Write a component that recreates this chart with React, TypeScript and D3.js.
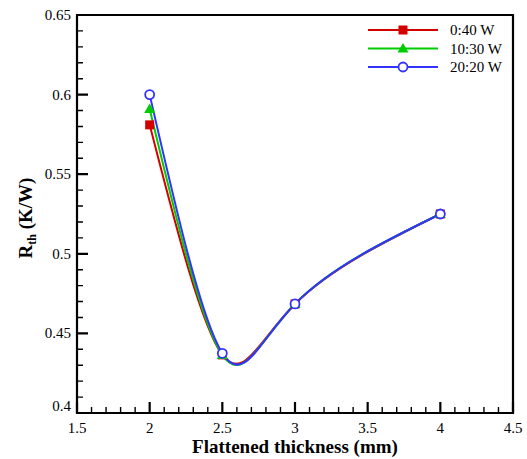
import * as d3 from "d3";

const thickness = [2, 2.5, 3, 4];
const rth040 = [0.581, 0.4365, 0.4685, 0.525];
const rth1030 = [0.591, 0.4365, 0.4685, 0.525];
const rth2020 = [0.6, 0.4375, 0.4685, 0.525];
const seriesNames = ["0:40 W", "10:30 W", "20:20 W"];
const seriesColors = ["#d40000", "#00cc00", "#3333ff"];
const xTicks = [1.5, 2, 2.5, 3, 3.5, 4, 4.5];
const yTicks = [0.4, 0.45, 0.5, 0.55, 0.6, 0.65];
const xMinor = d3.range(15, 46).map(d => d / 10);
const yMinor = d3.range(40, 66).map(d => d / 100);

const font = "Liberation Serif, Times New Roman, serif";
const W = 527, H = 459;
const margin = {top: 15, left: 77, right: 14, bottom: 46};
const x = d3.scaleLinear().domain([1.5, 4.5]).range([margin.left, W - margin.right]);
const y = d3.scaleLinear().domain([0.4, 0.65]).range([H - margin.bottom, margin.top]);

const line = d3.line<[number, number]>()
    .x(d => x(d[0])).y(d => y(d[1]))
    .curve(d3.curveNatural);

const Marker = ({i, cx, cy}: {i: number, cx: number, cy: number}) => {
    if (i === 0) return <rect x={cx - 4.5} y={cy - 4.5} width={9} height={9} fill={seriesColors[0]} />;
    if (i === 1) return <path d={`M${cx},${cy - 5.5}L${cx + 5.5},${cy + 4}L${cx - 5.5},${cy + 4}Z`} fill={seriesColors[1]} />;
    return <circle cx={cx} cy={cy} r={4.5} fill="#fff" stroke={seriesColors[2]} strokeWidth={1.8} />;
};

const App = () => {
    const all = [rth040, rth1030, rth2020];
    const isMajor = (v: number, k: number) => Math.abs(v * k - Math.round(v * k)) < 1e-6;
    // inward ticks, left + bottom only
    const minorPath = xMinor.filter(v => !isMajor(v, 2)).map(v => `M${x(v)},${y(0.4)}v-6`).join("")
        + yMinor.filter(v => !isMajor(v, 20)).map(v => `M${x(1.5)},${y(v)}h6`).join("");
    const majorPath = xTicks.map(v => `M${x(v)},${y(0.4)}v-11`).join("")
        + yTicks.map(v => `M${x(1.5)},${y(v)}h11`).join("");
    return (
        <svg width={W} height={H} style={{position: "absolute", left: 0, top: 0, background: "#fff"}}>
            <path d={`M${x(1.5)},${y(0.65)}H${x(4.5)}V${y(0.4)}H${x(1.5)}Z`}
                  fill="none" stroke="#000" strokeWidth={2.2} />
            <path d={minorPath} fill="none" stroke="#000" strokeWidth={1.4} />
            <path d={majorPath} fill="none" stroke="#000" strokeWidth={2.2} />

            {xTicks.map(v => (
                <text key={"xl" + v} x={x(v)} y={y(0.4) + 20} textAnchor="middle" fontSize={15}
                      fontFamily={font}>{v}</text>
            ))}
            {yTicks.map(v => (
                <text key={"yl" + v} x={x(1.5) - 6} y={y(v) + (v === 0.4 ? -2 : 5)} textAnchor="end" fontSize={15}
                      fontFamily={font}>{v}</text>
            ))}

            <text x={(x(1.5) + x(4.5)) / 2} y={453} textAnchor="middle" fontSize={19} fontWeight="bold"
                  fontFamily={font}>
                Flattened thickness (mm)
            </text>
            <text transform={`translate(32, ${(y(0.4) + y(0.65)) / 2 + 4}) rotate(-90)`} textAnchor="middle"
                  fontSize={19} fontWeight="bold" fontFamily={font}>
                <tspan>R</tspan>
                <tspan fontSize={12} dy={4}>th</tspan>
                <tspan dy={-4}> (K/W)</tspan>
            </text>

            {all.map((vals, i) => (
                <path key={"l" + i} d={line(thickness.map((t, j) => [t, vals[j]] as [number, number])) || ""}
                      fill="none" stroke={seriesColors[i]} strokeWidth={2} />
            ))}
            {all.map((vals, i) => thickness.map((t, j) => (
                <Marker key={"m" + i + "-" + j} i={i} cx={x(t)} cy={y(vals[j])} />
            )))}

            {seriesNames.map((name, i) => {
                const ly = 30 + i * 18.5;
                return (
                    <g key={"lg" + i}>
                        <line x1={368} x2={438} y1={ly} y2={ly} stroke={seriesColors[i]} strokeWidth={2} />
                        <Marker i={i} cx={403} cy={ly} />
                        <text x={450} y={ly + 5} fontSize={15} fontFamily={font}>{name}</text>
                    </g>
                );
            })}
        </svg>
    );
};

export default App;
